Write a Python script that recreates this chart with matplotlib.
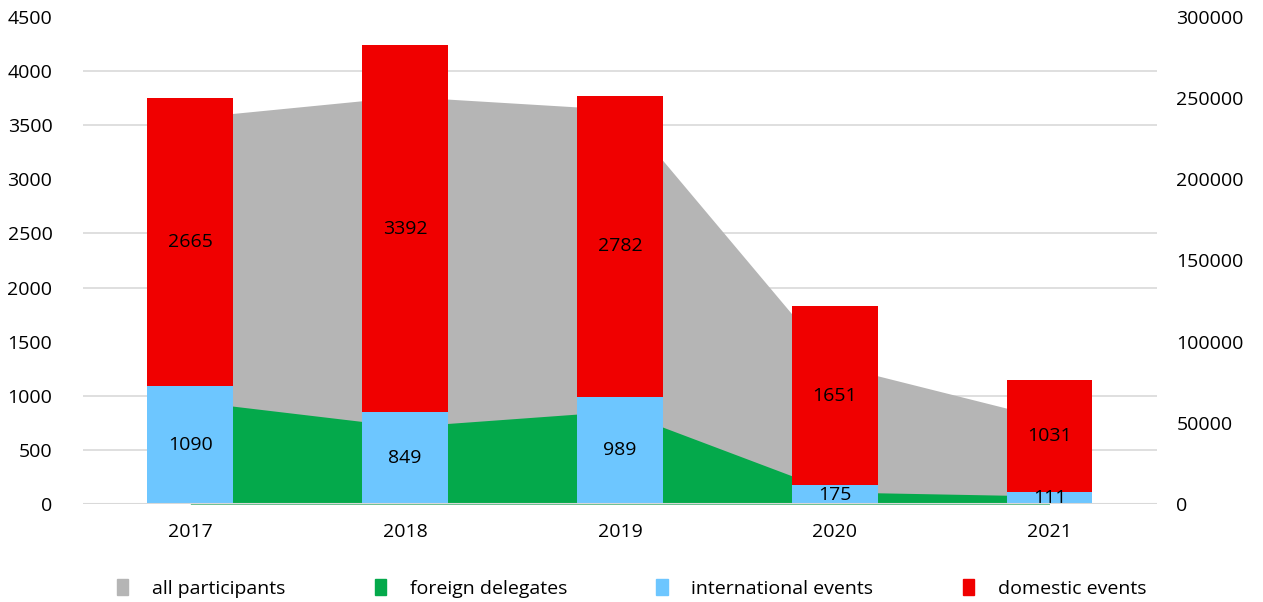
import numpy as np
import matplotlib
matplotlib.use('Agg')
import matplotlib.pyplot as plt
from matplotlib.patches import Patch
from matplotlib.ticker import FixedLocator

# データ
years = ['2017', '2018', '2019', '2020', '2021']
international_events = [1090, 849, 989, 175, 111]
domestic_events = [2665, 3392, 2782, 1651, 1031]
all_participants = [238000, 251000, 243000, 85600, 52400]
foreign_delegates = [63400, 47700, 57300, 7400, 4900]

c_gray = '#B5B5B5'
c_green = '#04A94B'
c_blue = '#6DC6FF'
c_red = '#F00000'

plt.rcParams['font.family'] = ['Open Sans', 'DejaVu Sans']
fs = 14

fig = plt.figure(figsize=(12.63, 6.02), dpi=100)
ax = fig.add_axes([0.0657, 0.1628, 0.916 - 0.0657, 0.9718 - 0.1628])
ax2 = ax.twinx()
ax.set_zorder(ax2.get_zorder() + 1)
ax.patch.set_visible(False)

x = np.arange(len(years))

# 面グラフ（右軸）
ax2.fill_between(x, all_participants, color=c_gray, linewidth=0, zorder=1)
ax2.fill_between(x, foreign_delegates, color=c_green, linewidth=0, zorder=2)
ax2.set_ylim(0, 300000)
ax2.set_yticks(np.arange(0, 300001, 50000))

# 左軸の目盛に合わせたグリッド（面の後ろ）
left_ticks = np.arange(0, 4501, 500)
ax2.yaxis.set_minor_locator(FixedLocator(left_ticks * 300000 / 4500))
ax2.grid(which='minor', axis='y', color='#D9D9D9', linewidth=1.2, zorder=0)
ax2.set_axisbelow(True)

# 積み上げ棒（左軸）
w = 0.4
b1 = ax.bar(x, international_events, w, color=c_blue, zorder=3)
b2 = ax.bar(x, domestic_events, w, bottom=international_events, color=c_red, zorder=3)
ax.bar_label(b1, label_type='center', fontsize=fs, color='black')
ax.bar_label(b2, label_type='center', fontsize=fs, color='black')
ax.axhline(0, color='#D9D9D9', linewidth=1.5, zorder=4)

ax.set_ylim(0, 4500)
ax.set_yticks(left_ticks)
ax.set_xlim(-0.5, len(years) - 0.5)
ax.set_xticks(x)
ax.set_xticklabels(years)

for a in (ax, ax2):
    for s in a.spines.values():
        s.set_visible(False)
    a.tick_params(length=0, labelsize=fs, colors='black')
ax.tick_params(axis='x', pad=14)
ax.tick_params(axis='y', pad=22)
ax2.tick_params(axis='y', pad=14)
ax2.tick_params(which='minor', length=0)

handles = [Patch(color=c_gray), Patch(color=c_green), Patch(color=c_blue), Patch(color=c_red)]
labels = ['all participants', 'foreign delegates', 'international events', 'domestic events']
fig.legend(handles, labels, loc='center', bbox_to_anchor=(0.5, 0.023), ncol=4,
           frameon=False, fontsize=fs, handlelength=0.6, handleheight=0.9,
           handletextpad=1.2, columnspacing=4.6)

fig.savefig('out.png', dpi=100)
